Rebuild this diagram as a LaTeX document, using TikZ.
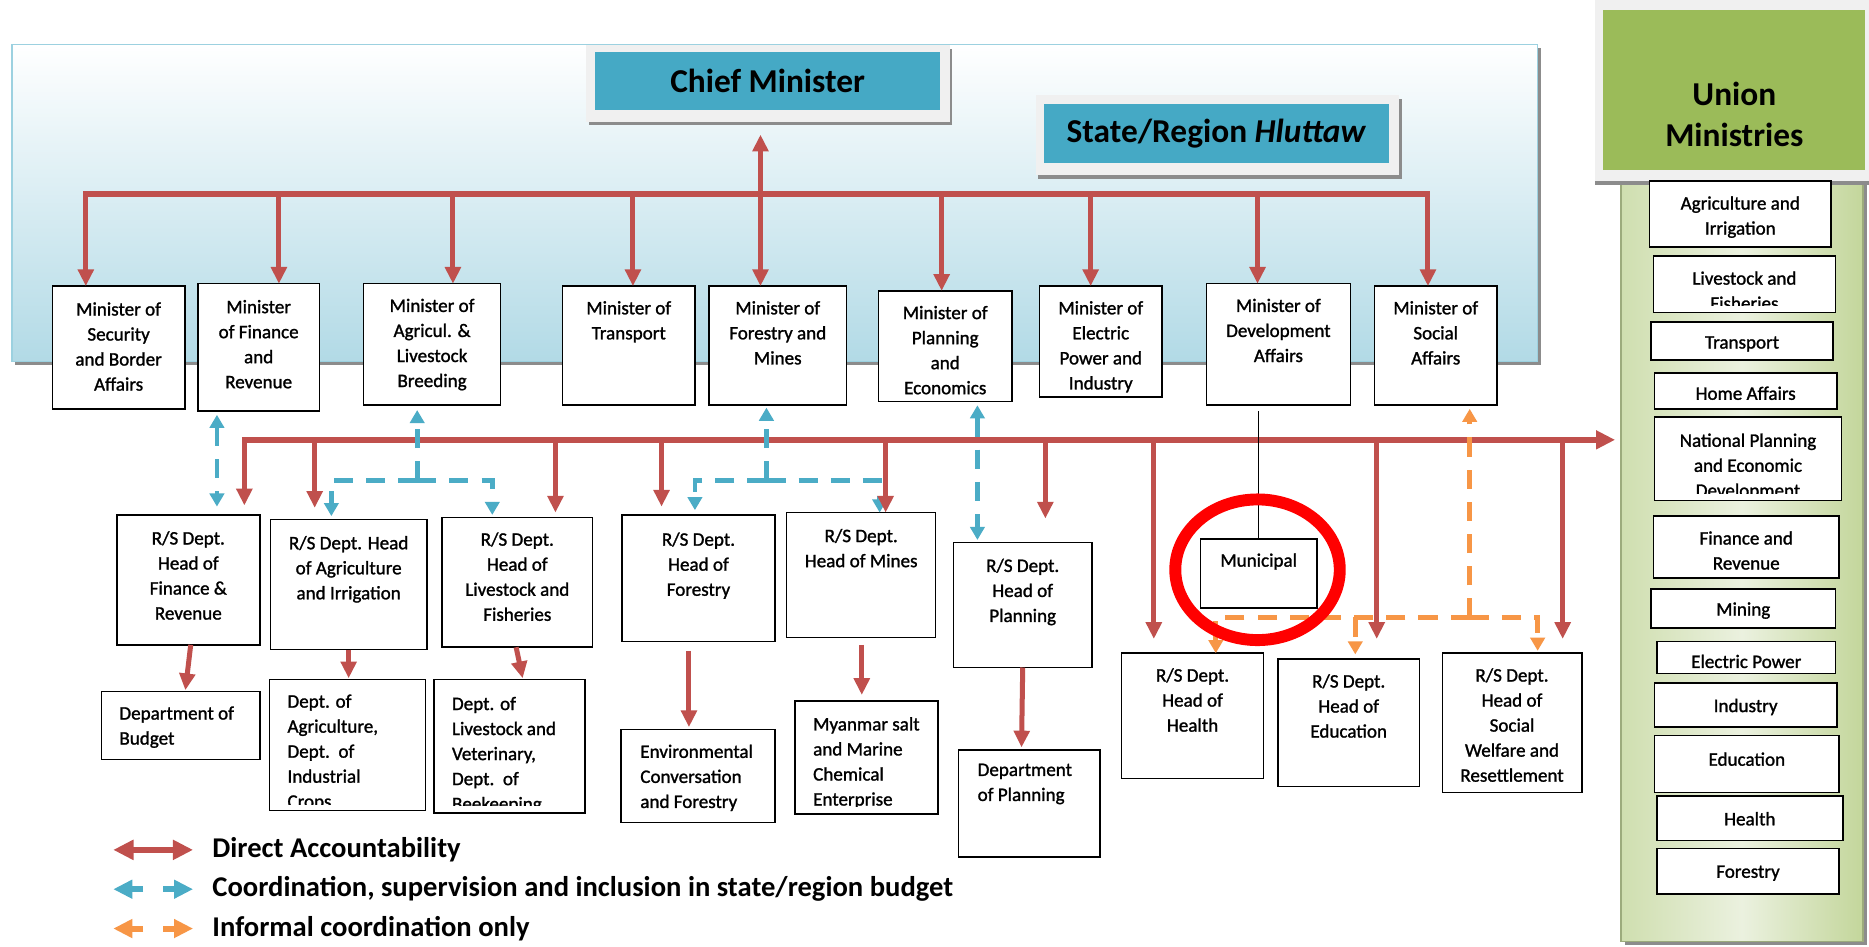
\documentclass[tikz,border=0pt]{standalone}
\usepackage{fontspec}
\setmainfont{Carlito}
\newfontfamily\bxf{Carlito}[FakeBold=1.3]
\usetikzlibrary{arrows.meta,calc,fit}
\definecolor{ared}{HTML}{C0504D}
\definecolor{ablue}{HTML}{4BACC6}
\definecolor{aorange}{HTML}{F79646}
\definecolor{ateal}{HTML}{45A9C5}
\definecolor{agreen}{HTML}{9BBB59}
\definecolor{panelb}{HTML}{B2DAE6}
\definecolor{glight}{HTML}{EBF1DF}
\definecolor{gdark}{HTML}{C3D69B}
\begin{document}
\begin{tikzpicture}[x=1pt,y=-1pt,
  bx/.style={draw=black, line width=1.3pt, fill=white, inner sep=0pt, outer sep=0pt},
  tx/.style={font=\bxf\fontsize{16}{21}\selectfont, align=center, inner sep=0pt, anchor=north, yshift=-5.5pt, execute at begin node={\rule{0pt}{14.7pt}}},
  tl/.style={tx, align=left, anchor=north west},
  hd/.style={font=\fontsize{28}{35}\selectfont\bfseries, align=center, inner sep=0pt},
  lg/.style={font=\fontsize{24}{28}\selectfont\bfseries, inner sep=0pt, anchor=west},
  rl/.style={draw=ared, line width=5pt},
  ra/.style={draw=ared, line width=4.2pt, -{Triangle[length=14pt,width=13pt]}},
  rdd/.style={draw=ared, line width=4.2pt, {Triangle[length=14pt,width=13pt]}-{Triangle[length=14pt,width=13pt]}},
  bd/.style={draw=ablue, line width=4pt, dash pattern=on 16pt off 11pt},
  bda/.style={bd, -{Triangle[length=11pt,width=12pt]}},
  bdd/.style={bd, {Triangle[length=11pt,width=12pt]}-{Triangle[length=11pt,width=12pt]}},
  od/.style={draw=aorange, line width=4pt, dash pattern=on 16pt off 11pt},
  oda/.style={od, -{Triangle[length=11pt,width=12pt]}},
  frm/.style={fill=black!6, draw=none, inner sep=0pt},
  shd/.style={fill=black!45, draw=none}
]
\useasboundingbox (0,0) rectangle (1568,794);
\fill[white] (0,0) rectangle (1568,794);

% ---------- main panel ----------
\fill[shd] (13,40) rectangle (1293,306);
\path[draw=ablue!55, line width=1pt, top color=white, bottom color=panelb] (10,37) rectangle (1290,303);

% ---------- union column ----------
\fill[shd] (1363,146) rectangle (1566,793);
\path[draw=gdark!80!black, line width=1pt, left color=gdark!80, right color=gdark, middle color=glight] (1360,143) rectangle (1563,790);
\fill[shd] (1338,4) rectangle (1568,155);
\node[frm, fit={(1338,0) (1568,152)}] (umf) {};
\node[fill=agreen, inner sep=0pt, fit={(1345,8) (1565,143)}] (um) {};
\node[hd] (umt) at (1455,96) {Union\\Ministries};

% ---------- chief minister / hluttaw ----------
\fill[shd] (494,41) rectangle (799,105);
\node[frm, fit={(492,38) (797,102)}] (cmf) {};
\node[fill=ateal, inner sep=0pt, fit={(499,44) (789,92)}] (cm) {};
\node[hd] (cmt) at (cm.center) {Chief Minister};
\fill[shd] (871,83) rectangle (1176,150);
\node[frm, fit={(869,80) (1174,147)}] (hlf) {};
\node[fill=ateal, inner sep=0pt, fit={(876,87) (1165,137)}] (hl) {};
\node[hd] (hlt) at (hl.center) {State/Region \textit{Hluttaw}};

% ---------- minister boxes ----------
\node[bx, fit={(44,240) (155,343)}] (m1) {};
\node[bx, fit={(166,238) (268,345)}] (m2) {};
\node[bx, fit={(305,238) (420,340)}] (m3) {};
\node[bx, fit={(472,240) (583,340)}] (m4) {};
\node[bx, fit={(595,240) (710,340)}] (m5) {};
\node[bx, fit={(737,244) (849,337)}] (m6) {};
\node[bx, fit={(872,240) (975,333)}] (m7) {};
\node[bx, fit={(1012,238) (1133,340)}] (m8) {};
\node[bx, fit={(1153,240) (1256,340)}] (m9) {};
\node[tx] (m1t) at (99.5,248) {Minister of\\Security\\and Border\\Affairs};
\node[tx] (m2t) at (217,246) {Minister\\of Finance\\and\\Revenue};
\node[tx] (m3t) at (362.5,245) {Minister of\\Agricul. \&\\Livestock\\Breeding};
\node[tx] (m4t) at (527.5,247) {Minister of\\Transport};
\node[tx] (m5t) at (652.5,247) {Minister of\\Forestry and\\Mines};
\node[tx] (m6t) at (793,251) {Minister of\\Planning\\and\\Economics};
\node[tx] (m7t) at (923.5,247) {Minister of\\Electric\\Power and\\Industry};
\node[tx] (m8t) at (1072.5,245) {Minister of\\Development\\Affairs};
\node[tx] (m9t) at (1204.5,247) {Minister of\\Social\\Affairs};

% ---------- R/S dept boxes ----------
\node[bx, fit={(98,432) (218,541)}] (rs1) {};
\node[bx, fit={(227,436) (358,545)}] (rs2) {};
\node[bx, fit={(371,434) (497,543)}] (rs3) {};
\node[bx, fit={(522,432) (650,538)}] (rs4) {};
\node[bx, fit={(660,430) (785,535)}] (rs5) {};
\node[bx, fit={(800,455) (916,560)}] (rs6) {};
\node[bx, fit={(1007,452) (1105,510)}] (mun) {};
\node[bx, fit={(941,548) (1060,653)}] (rs7) {};
\node[bx, fit={(1072,553) (1191,660)}] (rs8) {};
\node[bx, fit={(1210,548) (1327,665)}] (rs9) {};
\node[tx] (rs1t) at (158,440) {R/S Dept.\\Head of\\Finance \&\\Revenue};
\node[tx] (rs2t) at (292.5,444) {R/S Dept. Head\\of Agriculture\\and Irrigation};
\node[tx] (rs3t) at (434,441) {R/S Dept.\\Head of\\Livestock and\\Fisheries};
\node[tx] (rs4t) at (586,441) {R/S Dept.\\Head of\\Forestry};
\node[tx] (rs5t) at (722.5,438) {R/S Dept.\\Head of Mines};
\node[tx] (rs6t) at (858,463) {R/S Dept.\\Head of\\Planning};
\node[tx] (munt) at (1056,455) {Municipal};
\node[tx] (rs7t) at (1000.5,555) {R/S Dept.\\Head of\\Health};
\node[tx] (rs8t) at (1131.5,560) {R/S Dept.\\Head of\\Education};
\node[tx] (rs9t) at (1268.5,555) {R/S Dept.\\Head of\\Social\\Welfare and\\Resettlement};

% ---------- department boxes ----------
\node[bx, fit={(85,580) (218,637)}] (bud) {};
\node[bx, fit={(226,570) (357,680)}] (dagr) {};
\node[bx, fit={(364,570) (491,682)}] (dliv) {};
\node[bx, fit={(521,612) (650,690)}] (env) {};
\node[bx, fit={(667,588) (787,683)}] (salt) {};
\node[bx, fit={(804,629) (923,719)}] (dpl) {};
\node[tl] (budt) at (100,587) {Department of\\Budget};
\begin{scope}
\clip (226,570) rectangle (357,675);
\node[tl] (dagrt) at (241,577) {Dept. of\\Agriculture,\\Dept.\ \ of\\Industrial\\Crops};
\end{scope}
\begin{scope}
\clip (364,570) rectangle (491,676);
\node[tl] (dlivt) at (379,579) {Dept. of\\Livestock and\\Veterinary,\\Dept.\ \ of\\Beekeeping};
\end{scope}
\node[tl] (envt) at (537,619) {Environmental\\Conversation\\and Forestry};
\begin{scope}
\clip (667,588) rectangle (787,677);
\node[tl] (saltt) at (682,596) {Myanmar salt\\and Marine\\Chemical\\Enterprise};
\end{scope}
\node[tl] (dplt) at (820,635) {Department\\of Planning};

% ---------- union ministry boxes ----------
\node[bx, fit={(1384,152) (1536,207)}] (u1) {};
\node[bx, fit={(1387,215) (1540,262)}] (u2) {};
\node[bx, fit={(1385,270) (1538,302)}] (u3) {};
\node[bx, fit={(1388,313) (1541,343)}] (u4) {};
\node[bx, fit={(1388,350) (1545,420)}] (u5) {};
\node[bx, fit={(1387,433) (1543,485)}] (u6) {};
\node[bx, fit={(1385,494) (1540,527)}] (u7) {};
\node[bx, fit={(1390,538) (1540,565)}] (u8) {};
\node[bx, fit={(1388,573) (1541,610)}] (u9) {};
\node[bx, fit={(1388,617) (1543,665)}] (u10) {};
\node[bx, fit={(1390,668) (1546,705)}] (u11) {};
\node[bx, fit={(1390,712) (1543,750)}] (u12) {};
\node[tx] (u1t) at (1460,159) {Agriculture and\\Irrigation};
\begin{scope}
\clip (1387,215) rectangle (1540,256);
\node[tx] (u2t) at (1463.5,222) {Livestock and\\Fisheries};
\end{scope}
\node[tx] (u3t) at (1461.5,272) {Transport};
\node[tx] (u4t) at (1464.5,315) {Home Affairs};
\begin{scope}
\clip (1388,350) rectangle (1545,414);
\node[tx] (u5t) at (1466.5,358) {National Planning\\and Economic\\Development};
\end{scope}
\node[tx] (u6t) at (1465,440) {Finance and\\Revenue};
\node[tx] (u7t) at (1462.5,496) {Mining};
\node[tx] (u8t) at (1465,540) {Electric Power};
\node[tx] (u9t) at (1464.5,577) {Industry};
\node[tx] (u10t) at (1465.5,622) {Education};
\node[tx] (u11t) at (1468,672) {Health};
\node[tx] (u12t) at (1466.5,716) {Forestry};

% ---------- coordinates ----------
\coordinate (t1) at (72,163);
\coordinate (t2) at (234,163);
\coordinate (t3) at (380,163);
\coordinate (t4) at (531,163);
\coordinate (t5) at (638,163);
\coordinate (t6) at (790,163);
\coordinate (t7) at (915,163);
\coordinate (t8) at (1055,163);
\coordinate (t9) at (1198,163);
\coordinate (cmA) at (638,113);
\coordinate (b1) at (205,369);
\coordinate (b2) at (264,369);
\coordinate (b3) at (466,369);
\coordinate (b4) at (555,369);
\coordinate (b5) at (743,369);
\coordinate (b6) at (877,369);
\coordinate (b6e) at (877,435);
\coordinate (b7) at (968,369);
\coordinate (b8) at (1155,369);
\coordinate (b9) at (1311,369);
\coordinate (bE) at (1355,369);

% ---------- red buses ----------
\draw[rl] ([xshift=-2.1pt]t1) -- ([xshift=2.1pt]t9);
\draw[draw=ared, line width=5pt, -{Triangle[length=16pt,width=15pt]}] ([xshift=-2.1pt]b1) -- (bE);

% ---------- municipal link ----------
\draw[line width=1pt, shorten <=5pt] (mun.north |- m8.south) -- (mun.north);

% ---------- blue dashed ----------
\coordinate (xf) at (182,0);
\draw[bdd, shorten <=3pt, shorten >=7pt] (xf |- m2.south) -- (xf |- rs1.north);
\coordinate (ja) at (350,403);
\coordinate (ja1) at (278,403);
\coordinate (ja2) at (413,403);
\draw[bda, shorten >=4pt] (ja) -- (ja |- m3.south);
\draw[bda, shorten >=3pt] (ja) -- (ja1) -- (ja1 |- rs2.north);
\draw[bda, shorten >=2pt] (ja) -- (ja2) -- (ja2 |- rs3.north);
\coordinate (jf) at (643,403);
\coordinate (jf1) at (583,403);
\coordinate (jf2) at (738,403);
\draw[bda, shorten >=2pt] (jf) -- (jf |- m5.south);
\draw[bda, shorten >=4pt] (jf) -- (jf1) -- (jf1 |- rs4.north);
\draw[bda] (jf) -- (jf2) -- (jf2 |- rs5.north);
\coordinate (xp) at (820,0);
\draw[bdd, shorten <=3pt, shorten >=2pt] (xp |- m6.south) -- (xp |- rs6.north);

% ---------- orange dashed ----------
\coordinate (jo) at (1233,518);
\coordinate (jo1) at (1020,518);
\coordinate (jo2) at (1137,518);
\coordinate (jo3) at (1290,518);
\draw[oda, shorten >=3pt] (jo) -- (jo |- m9.south);
\draw[oda] (jo) -- (jo1) -- (jo1 |- rs7.north);
\draw[oda, shorten >=4pt] (jo2) -- (jo2 |- rs8.north);
\draw[oda, shorten >=2pt] (jo) -- (jo3) -- (jo3 |- rs9.north);

% ---------- red drops, top ----------
\draw[ra] (t1) -- (t1 |- m1.north);
\draw[ra] (t2) -- (t2 |- m2.north);
\draw[ra] (t3) -- (t3 |- m3.north);
\draw[ra] (t4) -- (t4 |- m4.north);
\draw[rdd] (cmA) -- (t5 |- m5.north);
\draw[ra] (t6) -- (t6 |- m6.north);
\draw[ra] (t7) -- (t7 |- m7.north);
\draw[ra] (t8) -- (t8 |- m8.north);
\draw[ra] (t9) -- (t9 |- m9.north);

% ---------- red drops, second bus ----------
\draw[ra, shorten >=8pt] (b1) -- (b1 |- rs1.north);
\draw[ra, shorten >=10pt] (b2) -- (b2 |- rs2.north);
\draw[ra, shorten >=4pt] (b3) -- (b3 |- rs3.north);
\draw[ra, shorten >=7pt] (b4) -- (b4 |- rs4.north);
\draw[ra] (b5) -- (b5 |- rs5.north);
\draw[ra] (b6) -- (b6e);
\draw[ra, shorten >=12pt] (b7) -- (b7 |- rs7.north);
\draw[ra, shorten >=17pt] (b8) -- (b8 |- rs8.north);
\draw[ra, shorten >=12pt] (b9) -- (b9 |- rs9.north);

% ---------- red, dept level ----------
\draw[ra] ($(rs1.south)+(2,0)$) -- ($(bud.north)+(4,-1)$);
\draw[ra] (rs2.south) -- ($(rs2.south |- dagr.north)+(0,-1)$);
\draw[ra] ($(rs3.south)+(-1,0)$) -- ($(dliv.north)+(11,-1)$);
\draw[ra] ($(rs4.south)+(-8,8)$) -- ($(env.north)+(-7.5,-2)$);
\draw[ra] ($(rs5.south)+(0.5,6)$) -- ($(salt.north)+(-4,-5)$);
\draw[ra] (rs6.south) -- ($(dpl.north)+(-6.5,-2)$);

% ---------- highlight ----------
\draw[red, line width=10pt] (1055,478) ellipse [x radius=69, y radius=59];

% ---------- legend ----------
\coordinate (l1a) at (95,713);
\coordinate (l1b) at (162,713);
\draw[draw=ared, line width=5.5pt, {Triangle[length=17pt,width=16pt]}-{Triangle[length=17pt,width=16pt]}] (l1a) -- (l1b);
\node[lg] (l1t) at (178,713) {Direct Accountability};
\coordinate (l2a) at (95,746);
\coordinate (l2b) at (120,746);
\coordinate (l2c) at (137,746);
\coordinate (l2d) at (162,746);
\draw[draw=ablue, line width=5pt, -{Triangle[length=16pt,width=15pt]}] (l2b) -- (l2a);
\draw[draw=ablue, line width=5pt, -{Triangle[length=16pt,width=15pt]}] (l2c) -- (l2d);
\node[lg] (l2t) at (178,746) {Coordination, supervision and inclusion in state/region budget};
\coordinate (l3a) at (95,779);
\coordinate (l3b) at (120,779);
\coordinate (l3c) at (137,779);
\coordinate (l3d) at (162,779);
\draw[draw=aorange, line width=5pt, -{Triangle[length=16pt,width=15pt]}] (l3b) -- (l3a);
\draw[draw=aorange, line width=5pt, -{Triangle[length=16pt,width=15pt]}] (l3c) -- (l3d);
\node[lg] (l3t) at (178,779) {Informal coordination only};
\end{tikzpicture}
\end{document}
